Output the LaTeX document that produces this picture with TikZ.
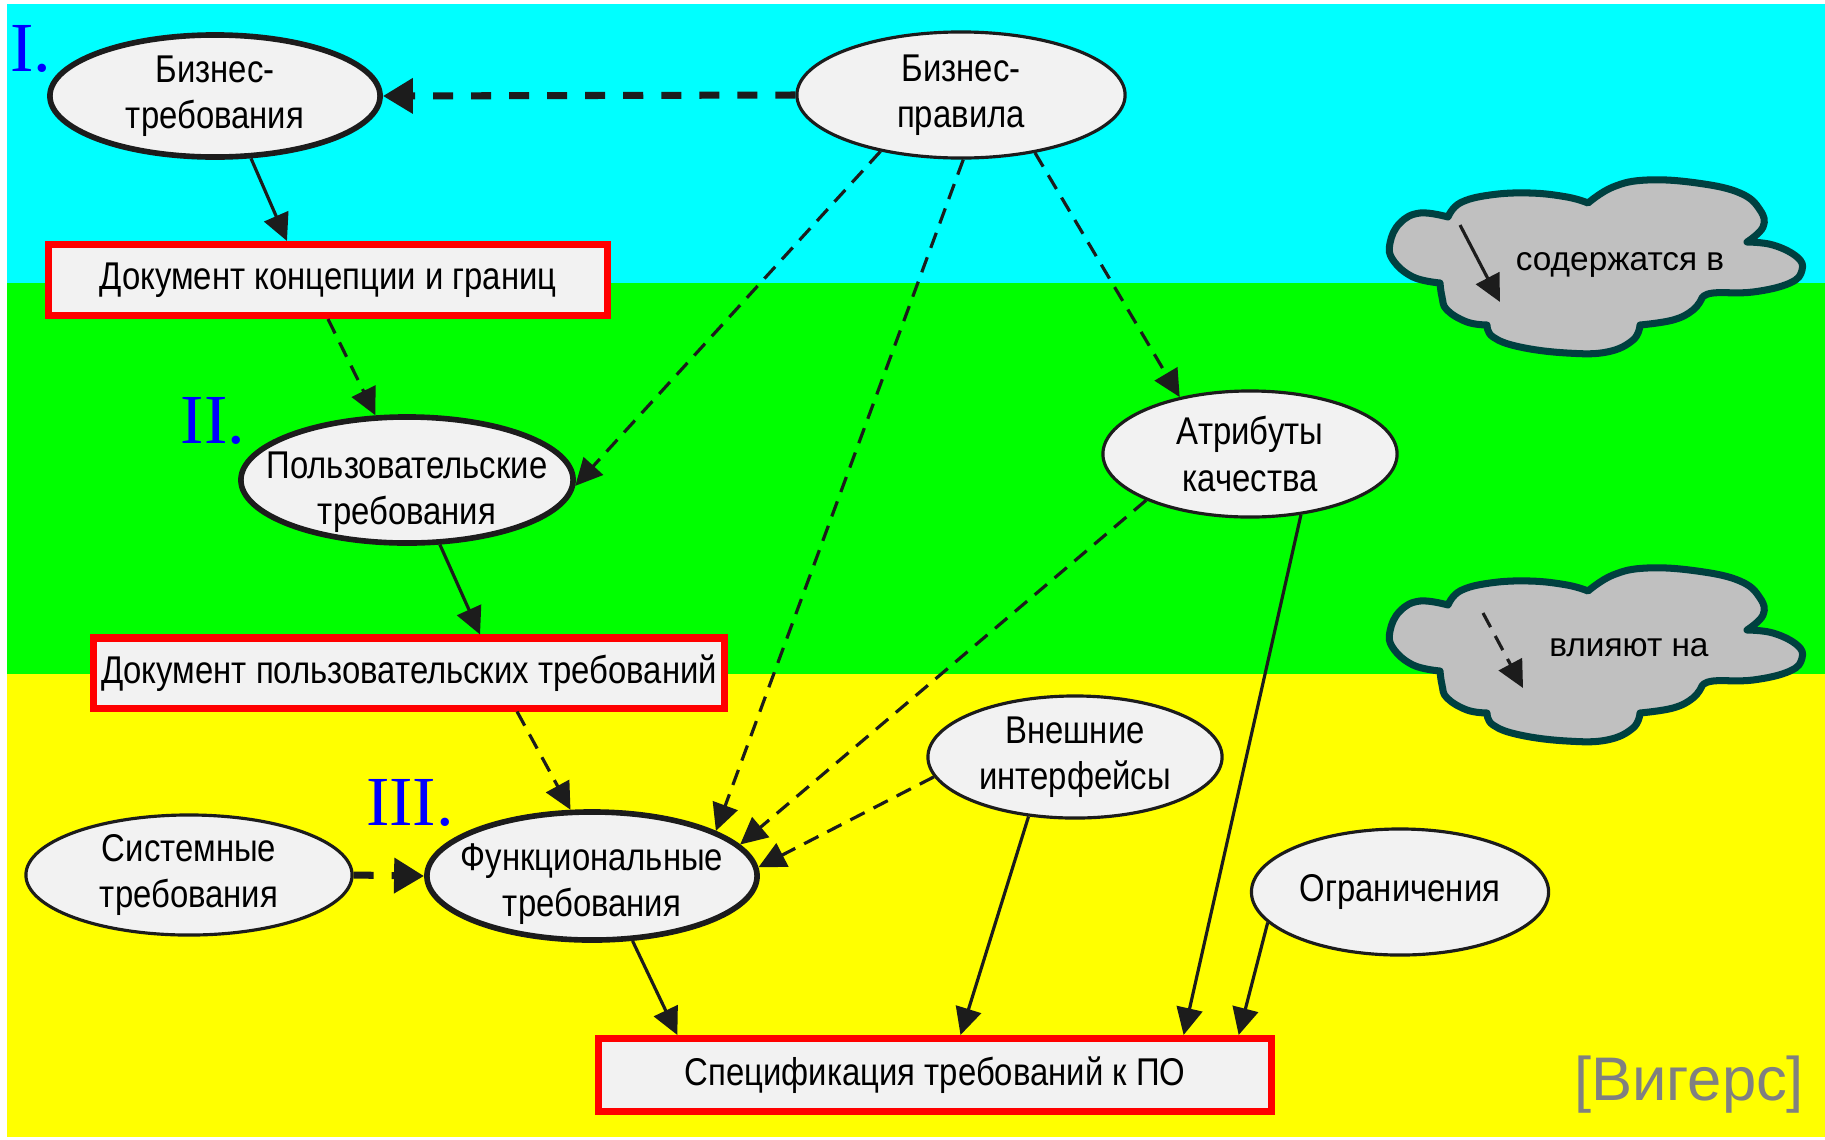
\documentclass[tikz,border=0pt]{standalone}
\usepackage{fontspec}
\setmainfont{Liberation Sans}
\newfontfamily\narrowfont[FakeStretch=0.85]{Liberation Sans}
\newfontfamily\romanfont{Liberation Serif}
\usetikzlibrary{shapes.geometric,arrows.meta}

\definecolor{bgcyan}{RGB}{0,255,255}
\definecolor{bggreen}{RGB}{0,255,0}
\definecolor{bgyellow}{RGB}{255,255,0}
\definecolor{nodefill}{RGB}{242,242,242}
\definecolor{cloudfill}{RGB}{192,192,192}
\definecolor{cloudline}{RGB}{0,64,64}
\definecolor{inkcol}{RGB}{28,28,28}
\definecolor{refgray}{RGB}{128,128,128}

\tikzset{
  reqtext/.style={align=center, font=\narrowfont\fontsize{11}{13.2}\selectfont},
  req/.style={ellipse, draw=inkcol, fill=nodefill, line width=0.9pt,
    inner xsep=-0.6cm, inner ysep=-0.2cm, reqtext},
  reqmain/.style={req, line width=1.6pt},
  docbox/.style={rectangle, draw=red, fill=nodefill, line width=2pt, inner sep=0pt,
    font=\narrowfont\fontsize{11}{13.2}\selectfont},
  legendtext/.style={inner sep=0pt, font=\fontsize{9.5}{11}\selectfont},
  levelmark/.style={inner sep=0pt, text=blue, font=\romanfont\fontsize{20}{20}\selectfont},
  solidarr/.style={draw=inkcol, line width=0.9pt, -{Triangle[length=0.27cm,width=0.26cm]}},
  dasharr/.style={solidarr, dash pattern=on 0.16cm off 0.1cm},
  thickdash/.style={draw=inkcol, line width=2pt, dash pattern=on 0.2cm off 0.18cm,
    -{Triangle[length=0.3cm,width=0.34cm]}},
  legendcloud/.pic={
    \draw[cloudline, fill=cloudfill, line width=2pt, line join=round]
      (68,47) -- plot[smooth, tension=0.7] coordinates {(68,47) (80,33) (110,25) (150,23) (187,27) (208,33)}
      -- plot[smooth, tension=0.7] coordinates {(208,33) (233,17) (267,10) (317,13) (360,23) (380,40) (383,57) (367,72)}
      -- plot[smooth, tension=0.7] coordinates {(367,72) (393,75) (417,87) (422,100) (410,113) (373,122) (333,123) (322,128)}
      -- plot[smooth, tension=0.7] coordinates {(322,128) (313,140) (293,150) (260,155)}
      -- plot[smooth, tension=0.7] coordinates {(260,155) (253,170) (227,182) (187,183) (140,177) (113,167) (107,155)}
      -- plot[smooth, tension=0.7] coordinates {(107,155) (87,152) (67,140) (62,127) (60,113)}
      -- plot[smooth, tension=0.7] coordinates {(60,113) (33,107) (13,90) (10,73) (20,53) (40,43) (68,47)}
      -- cycle;
  }
}

\begin{document}
\begin{tikzpicture}[x=0.01cm, y=-0.01cm]
\useasboundingbox (0,0) rectangle (1825,1139);
\fill[white] (0,0) rectangle (1825,1139);
\fill[bgcyan] (7,4) rectangle (1825,283);
\fill[bggreen] (7,283) rectangle (1825,674);
\fill[bgyellow] (7,674) rectangle (1825,1137);

\pic (cloudin) at (1380,170) {legendcloud};
\node[legendtext] (textin) at (1620,265) {содержатся в};
\coordinate (inA) at (1460,225);
\coordinate (inB) at (1500,302);
\draw[solidarr] (inA) -- (inB);
\pic (cloudaff) at (1380,558) {legendcloud};
\node[legendtext] (textaff) at (1629,648) {влияют на};
\coordinate (affA) at (1483,613);
\coordinate (affB) at (1523,688);
\draw[dasharr] (affA) -- (affB);

\node[reqmain, minimum width=3.30cm, minimum height=1.22cm] (busreq) at (215,96) {Бизнес-\\требования};
\node[req, minimum width=3.28cm, minimum height=1.26cm] (busrules) at (961,95) {Бизнес-\\правила};
\node[docbox, minimum width=5.59cm, minimum height=0.71cm] (visiondoc) at (328,280) {Документ концепции и границ};
\node[reqmain, minimum width=3.32cm, minimum height=1.26cm,
  label={[reqtext, yshift=-0.12cm]center:Пользовательские\\требования}] (userreq) at (407,480) {};
\node[req, minimum width=2.94cm, minimum height=1.26cm] (quality) at (1250,454) {Атрибуты\\качества};
\node[docbox, minimum width=6.31cm, minimum height=0.70cm] (userdoc) at (409,673) {Документ пользовательских требований};
\node[req, minimum width=2.94cm, minimum height=1.22cm] (extif) at (1075,757) {Внешние\\интерфейсы};
\node[req, minimum width=3.26cm, minimum height=1.20cm] (sysreq) at (189,875) {Системные\\требования};
\node[reqmain, minimum width=3.30cm, minimum height=1.28cm,
  label={[reqtext, yshift=-0.08cm]center:Функциональные\\требования}] (funcreq) at (592,876) {};
\node[req, minimum width=2.97cm, minimum height=1.26cm] (constr) at (1400,892) {Ограничения};
\node[docbox, minimum width=6.72cm, minimum height=0.73cm] (srs) at (935,1075) {Спецификация требований к ПО};

\node[levelmark] (lvlone) at (31,49) {I.};
\node[levelmark] (lvltwo) at (213,421) {II.};
\node[levelmark] (lvlthree) at (410,803) {III.};
\node[inner sep=0pt, text=refgray, font=\fontsize{17.5}{18}\selectfont] (source) at (1689,1085) {[Вигерс]};

\draw[thickdash] (busrules.west) -- (busreq.east);
\draw[solidarr] (busreq.-60) -- ([xshift=2.42cm]visiondoc.north west);
\draw[dasharr] ([xshift=2.83cm]visiondoc.south west) -- (userreq.116);
\draw[dasharr] (busrules.215) -- (userreq.-2);
\draw[dasharr] (busrules.-88) -- (funcreq.20);
\draw[dasharr] (busrules.-38) -- (quality.141);
\draw[solidarr] (userreq.-63) -- ([xshift=3.90cm]userdoc.north west);
\draw[dasharr] ([xshift=4.27cm]userdoc.south west) -- (funcreq.108);
\draw[dasharr] (quality.204) -- (funcreq.12);
\draw[dasharr] (extif.188) -- (funcreq.3);
\draw[thickdash] (sysreq.east) -- (funcreq.west);
\draw[solidarr] (funcreq.-58) -- ([xshift=0.82cm]srs.north west);
\draw[solidarr] (extif.-128) -- ([xshift=3.65cm]srs.north west);
\draw[solidarr] (quality.-50) -- ([xshift=5.88cm]srs.north west);
\draw[solidarr] (constr.193) -- ([xshift=6.43cm]srs.north west);
\end{tikzpicture}
\end{document}
